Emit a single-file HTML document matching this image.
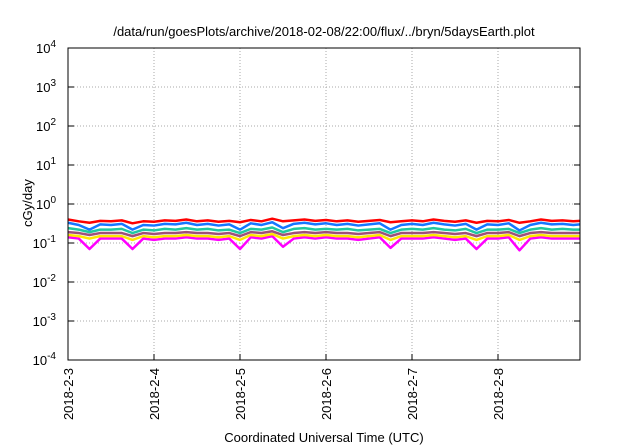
<!DOCTYPE html>
<html><head><meta charset="utf-8"><style>
body{margin:0;background:#fff;}
svg{display:block;font-family:"Liberation Sans",sans-serif;}
</style></head><body>
<svg id="chart" width="640" height="448" viewBox="0 0 640 448" xmlns="http://www.w3.org/2000/svg">
<text x="324" y="36" font-size="13" text-anchor="middle" fill="#000">/data/run/goesPlots/archive/2018-02-08/22:00/flux/../bryn/5daysEarth.plot</text>
<text transform="translate(32,203) rotate(-90)" font-size="13" text-anchor="middle">cGy/day</text>
<text x="324" y="442" font-size="13" text-anchor="middle">Coordinated Universal Time (UTC)</text>
<g id="grid"></g><g id="series"></g><g id="axes"></g>
</svg>
<script>
const xTickLabels=["2018-2-3","2018-2-4","2018-2-5","2018-2-6","2018-2-7","2018-2-8"];
const yTickExps=[-4,-3,-2,-1,0,1,2,3,4];
const seriesNames=["red","blue","teal","purple","yellow","magenta"];
const seriesColors=["#ff0000","#1677ff","#20c8a0","#a0507a","#ffe800","#ff00ff"];
const red=[0.40,0.36,0.33,0.37,0.36,0.38,0.32,0.36,0.35,0.38,0.37,0.40,0.36,0.38,0.35,0.37,0.34,0.39,0.36,0.42,0.36,0.38,0.40,0.37,0.39,0.36,0.38,0.35,0.37,0.39,0.34,0.36,0.38,0.36,0.40,0.37,0.35,0.38,0.33,0.37,0.36,0.39,0.33,0.36,0.40,0.37,0.38,0.36,0.37];
const blue=[0.33,0.29,0.22,0.30,0.29,0.31,0.22,0.29,0.28,0.31,0.30,0.33,0.29,0.31,0.28,0.30,0.22,0.32,0.29,0.34,0.24,0.31,0.33,0.30,0.32,0.29,0.31,0.28,0.30,0.32,0.22,0.29,0.31,0.29,0.33,0.30,0.28,0.31,0.22,0.30,0.29,0.32,0.21,0.29,0.33,0.30,0.31,0.29,0.30];
const teal=[0.24,0.22,0.19,0.22,0.22,0.23,0.18,0.22,0.21,0.23,0.22,0.24,0.22,0.23,0.21,0.22,0.18,0.23,0.22,0.25,0.19,0.23,0.24,0.22,0.23,0.22,0.23,0.21,0.22,0.23,0.18,0.22,0.23,0.22,0.24,0.22,0.21,0.23,0.18,0.22,0.22,0.23,0.18,0.22,0.24,0.22,0.23,0.22,0.22];
const purple=[0.19,0.18,0.16,0.18,0.18,0.18,0.15,0.18,0.17,0.18,0.18,0.19,0.18,0.18,0.17,0.18,0.15,0.19,0.18,0.20,0.16,0.18,0.19,0.18,0.19,0.18,0.18,0.17,0.18,0.19,0.15,0.18,0.18,0.18,0.19,0.18,0.17,0.18,0.15,0.18,0.18,0.19,0.15,0.18,0.19,0.18,0.18,0.18,0.18];
const yellow=[0.16,0.15,0.13,0.15,0.15,0.15,0.12,0.15,0.14,0.15,0.15,0.16,0.15,0.15,0.14,0.15,0.12,0.16,0.15,0.17,0.13,0.15,0.16,0.15,0.16,0.15,0.15,0.14,0.15,0.16,0.12,0.15,0.15,0.15,0.16,0.15,0.14,0.15,0.12,0.15,0.15,0.16,0.12,0.15,0.16,0.15,0.15,0.15,0.15];
const magenta=[0.14,0.13,0.07,0.13,0.13,0.13,0.07,0.13,0.12,0.13,0.13,0.14,0.13,0.13,0.12,0.13,0.07,0.14,0.13,0.15,0.08,0.13,0.14,0.13,0.14,0.13,0.13,0.12,0.13,0.14,0.075,0.13,0.13,0.13,0.14,0.13,0.12,0.13,0.07,0.13,0.13,0.14,0.065,0.13,0.14,0.13,0.13,0.13,0.13];
const allSeries=[red,blue,teal,purple,yellow,magenta];
const X0=68,X1=580,Y0=48,Y1=360,DAYPX=86,STEP=0.125;
const NS="http://www.w3.org/2000/svg";
function xs(d){return X0+d*DAYPX;}
function ys(v){return Y0+(4-Math.log10(v))*(Y1-Y0)/8;}
function mk(t,p){const e=document.createElementNS(NS,t);for(const k in p)e.setAttribute(k,p[k]);return e;}
const grid=document.getElementById('grid'),axes=document.getElementById('axes'),ser=document.getElementById('series');
yTickExps.forEach(e=>{const y=ys(Math.pow(10,e));
 if(e>-4&&e<4){const l=mk('line',{x1:X0,x2:X1,y1:y,y2:y,stroke:'#aaa','stroke-dasharray':'1,2','stroke-width':1});
 
 grid.appendChild(l);}
 const tk=mk('line',{x1:X0,x2:X0+6,y1:y,y2:y,stroke:'#000'});
 
 axes.appendChild(tk);
 const tk2=mk('line',{x1:X1-6,x2:X1,y1:y,y2:y,stroke:'#000'});
 
 axes.appendChild(tk2);
 const t=mk('text',{x:X0-12,y:y+5,'font-size':13,'text-anchor':'end'});
 
 
 t.textContent='10';const s=mk('tspan',{dy:-6,'font-size':10});s.textContent=String(e);t.appendChild(s);axes.appendChild(t);
});
xTickLabels.forEach((lab,i)=>{const x=xs(i);
 if(i>0){const l=mk('line',{x1:x,x2:x,y1:Y0,y2:Y1,stroke:'#aaa','stroke-dasharray':'1,2'});
 
 grid.appendChild(l);}
 const tk=mk('line',{x1:x,x2:x,y1:Y1-6,y2:Y1,stroke:'#000'});
 
 axes.appendChild(tk);
 const t=mk('text',{transform:`translate(${x+5},${Y1+8}) rotate(-90)`,'font-size':13,'text-anchor':'end'});
 
 
 t.textContent=lab;axes.appendChild(t);
});
const fr=mk('rect',{x:X0,y:Y0,width:X1-X0,height:Y1-Y0,fill:'none',stroke:'#000','stroke-width':1});

axes.appendChild(fr);
for(let k=allSeries.length-1;k>=0;k--){const arr=allSeries[k];
 const pts=arr.map((v,i)=>`${Math.min(xs(i*STEP),X1)},${ys(v)}`).join(' ');
 const p=mk('polyline',{points:pts,fill:'none',stroke:seriesColors[k],'stroke-width':2.5,'stroke-linejoin':'round'});
 
 ser.appendChild(p);}
</script>
</body></html>
